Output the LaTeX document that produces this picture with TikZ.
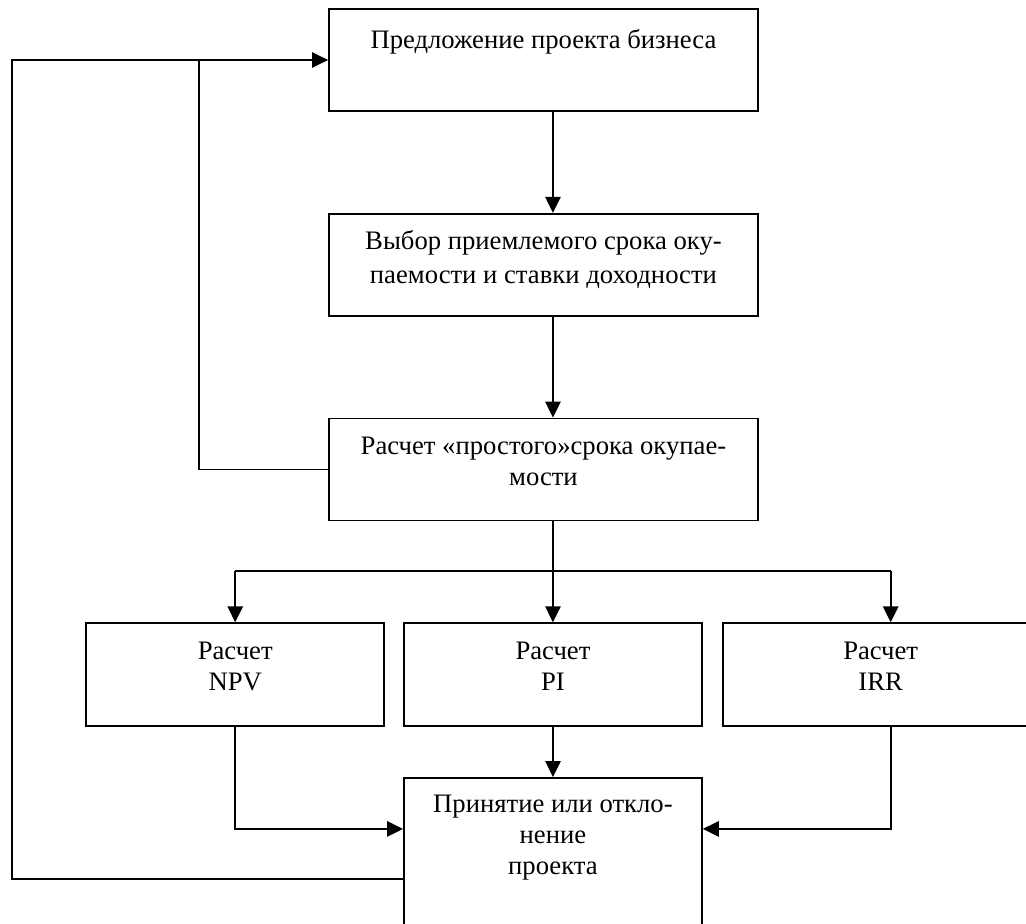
\documentclass[tikz,border=0pt]{standalone}
\usepackage{fontspec}
\setmainfont{Liberation Serif}
\usetikzlibrary{arrows.meta,positioning,calc}

\begin{document}
\begin{tikzpicture}[
        node distance=75.75pt,
        block/.style={draw,line width=1.3pt,minimum width=321.75pt,minimum height=76.5pt,
                      font=\fontsize{20}{23.25}\selectfont,align=center,inner sep=0pt,
                      text depth=5pt},
        calcbox/.style={block,minimum width=223.5pt,minimum height=77.25pt,text height=28.25pt},
        line/.style={line width=1.3pt},
        arr/.style={line,-{Triangle[length=12pt,width=11.5pt]}}]
        \useasboundingbox (0,0) rectangle (769.5pt,-693pt);
        \clip (0,0) rectangle (769.5pt,-693pt);
        \node[block,text height=15pt,text depth=32.5pt] (prop) at (407.6pt,-45pt) {Предложение проекта бизнеса};
        \node[block,below=of prop,text height=33.8pt,font=\fontsize{20}{25.8}\selectfont] (choose) {Выбор приемлемого срока оку-\\паемости и ставки доходности};
        \node[block,below=of choose,text height=29.5pt] (simple) {Расчет «простого»срока окупае-\\мости};
        \node[calcbox,below=of simple,xshift=7.125pt] (pi) {Расчет\\PI};
        \node[calcbox,left=13.5pt of pi] (npv) {Расчет\\NPV};
        \node[calcbox,right=14.25pt of pi,minimum width=237pt] (irr) {Расчет\\IRR};
        \node[calcbox,below=37.5pt of pi,minimum height=113.25pt,text height=36.2pt] (dec) {Принятие или откло-\\нение\\проекта};
        % points for the branches
        \coordinate (split) at ($(simple.south -| pi)+(0,-37.5pt)$);
        \coordinate (irrx) at ($(irr.north)+(7.5pt,0)$);
        \coordinate (decin) at ($(dec.west)+(0,18.4pt)$);
        \coordinate (decout) at ($(dec.west)+(0,-19pt)$);
        \coordinate (loopx) at (9pt,0);
        \coordinate (backx) at (149.25pt,0);
        \draw[arr] (prop.south -| pi) -- (choose.north -| pi);
        \draw[arr] (choose.south -| pi) -- (simple.north -| pi);
        \draw[arr] (simple.south -| pi) -- (pi.north);
        \draw[arr] (split -| npv) -- (npv.north);
        \draw[line] (split -| npv) -- (split -| irrx);
        \draw[arr] (split -| irrx) -- (irrx);
        \draw[arr] (pi.south) -- (dec.north);
        \draw[arr] (npv.south) |- (decin);
        \draw[arr] (irr.south -| irrx) |- (decin -| dec.east);
        % feedback to the proposal
        \draw[arr] (decout) -| (loopx |- prop.west) -- (prop.west);
        \draw[line] (simple.west) -| (backx |- prop.west);
      \end{tikzpicture}
\end{document}
